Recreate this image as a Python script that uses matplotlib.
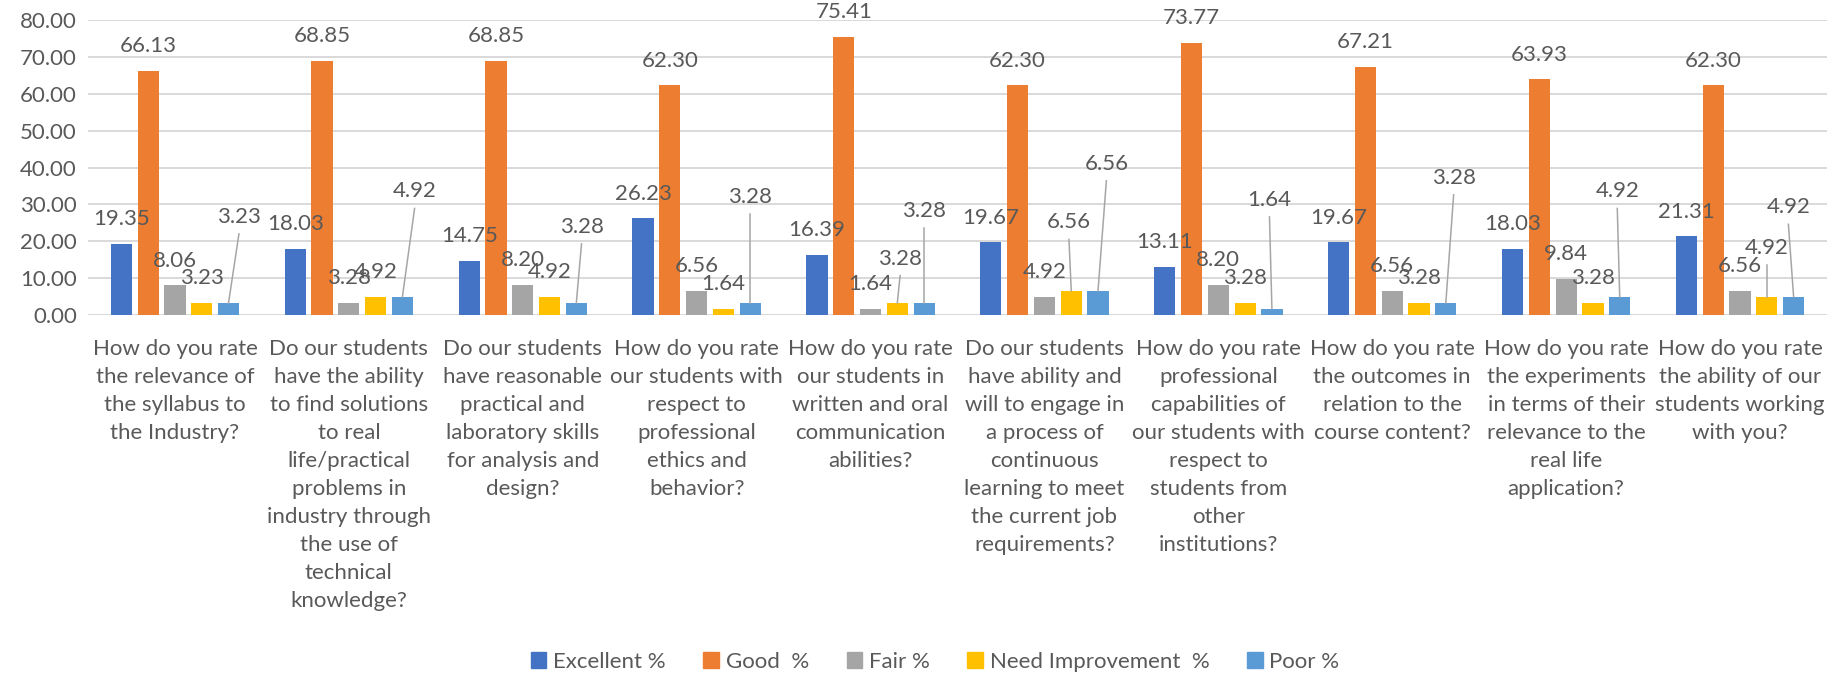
import numpy as np
import matplotlib
matplotlib.use("Agg")
import matplotlib.pyplot as plt
from matplotlib.patches import Patch

plt.rcParams['font.family'] = ['Lato', 'DejaVu Sans']

# ---- data ----
questions = [
    "How do you rate\nthe relevance of\nthe syllabus to\nthe Industry?",
    "Do our students\nhave the ability\nto find solutions\nto real\nlife/practical\nproblems in\nindustry through\nthe use of\ntechnical\nknowledge?",
    "Do our students\nhave reasonable\npractical and\nlaboratory skills\nfor analysis and\ndesign?",
    "How do you rate\nour students with\nrespect to\nprofessional\nethics and\nbehavior?",
    "How do you rate\nour students in\nwritten and oral\ncommunication\nabilities?",
    "Do our students\nhave ability and\nwill to engage in\na process of\ncontinuous\nlearning to meet\nthe current job\nrequirements?",
    "How do you rate\nprofessional\ncapabilities of\nour students with\nrespect to\nstudents from\nother\ninstitutions?",
    "How do you rate\nthe outcomes in\nrelation to the\ncourse content?",
    "How do you rate\nthe experiments\nin terms of their\nrelevance to the\nreal life\napplication?",
    "How do you rate\nthe ability of our\nstudents working\nwith you?",
]
series_names = ["Excellent %", "Good  %", "Fair %", "Need Improvement  %", "Poor %"]

excellent = [19.35, 18.03, 14.75, 26.23, 16.39, 19.67, 13.11, 19.67, 18.03, 21.31]
good = [66.13, 68.85, 68.85, 62.30, 75.41, 62.30, 73.77, 67.21, 63.93, 62.30]
fair = [8.06, 3.28, 8.20, 6.56, 1.64, 4.92, 8.20, 6.56, 9.84, 6.56]
need_improvement = [3.23, 4.92, 4.92, 1.64, 3.28, 6.56, 3.28, 3.28, 3.28, 4.92]
poor = [3.23, 4.92, 3.28, 3.28, 3.28, 6.56, 1.64, 3.28, 4.92, 4.92]

colors = ["#4472C4", "#ED7D31", "#A5A5A5", "#FFC000", "#5B9BD5"]

# labels Excel moved away from the bar: (series, category) -> (x shift, label height)
moved_labels = {
    (4, 0): (0.06, 26.6),
    (4, 1): (0.07, 33.5),
    (4, 2): (0.03, 23.9),
    (4, 3): (0.0, 31.9),
    (3, 4): (0.016, 15.3),
    (4, 4): (0.0, 28.1),
    (3, 5): (-0.013, 25.1),
    (4, 5): (0.048, 41.0),
    (4, 6): (-0.014, 31.2),
    (4, 7): (0.045, 37.2),
    (4, 8): (-0.014, 33.5),
    (3, 9): (0.0, 18.2),
    (4, 9): (-0.03, 29.2),
}

text_col = "#595959"
grid_col = "#D9D9D9"
fs = 16

fig = plt.figure(figsize=(18.48, 6.76), dpi=100)
ax = fig.add_axes([88 / 1848, 1 - 315 / 676, (1827 - 88) / 1848, (315 - 20) / 676])

values = [excellent, good, fair, need_improvement, poor]
x = np.arange(len(questions))
step = 0.154
width = 0.122

for s, vals in enumerate(values):
    xs = x + (s - 2) * step
    ax.bar(xs, vals, width=width, color=colors[s], zorder=3)
    for c, v in enumerate(vals):
        if (s, c) in moved_labels:
            dx, ly = moved_labels[(s, c)]
            lx = xs[c] + dx
            ax.text(lx, ly, f"{v:.2f}", ha="center", va="center",
                    fontsize=fs, color=text_col, zorder=5)
            ax.plot([lx, xs[c]], [ly - 4.6, v], color="#A6A6A6", lw=1.1, zorder=4)
        else:
            ax.text(xs[c], v + 6.7, f"{v:.2f}", ha="center", va="center",
                    fontsize=fs, color=text_col, zorder=5)

ax.set_xlim(-0.5, len(questions) - 0.5)
ax.set_ylim(0, 80)
ax.set_yticks(np.arange(0, 81, 10))
ax.set_yticklabels([f"{t:.2f}" for t in np.arange(0, 81, 10)], fontsize=fs, color=text_col)
ax.set_xticks(x)
ax.set_xticklabels(questions, fontsize=fs, color=text_col, linespacing=1.5, va="top")
ax.tick_params(axis="both", length=0)
ax.tick_params(axis="x", pad=17)
ax.tick_params(axis="y", pad=8)
ax.grid(axis="y", color=grid_col, lw=1.4, zorder=0)
for sp in ax.spines.values():
    sp.set_visible(False)

handles = [Patch(color=c) for c in colors]
fig.legend(handles, series_names, loc="center", bbox_to_anchor=(0.506, 1 - 662 / 676),
           ncol=5, frameon=False, fontsize=fs, labelcolor=text_col,
           handlelength=0.7, handleheight=0.7, handletextpad=0.3, columnspacing=1.7)

fig.savefig("out.png", dpi=100)
